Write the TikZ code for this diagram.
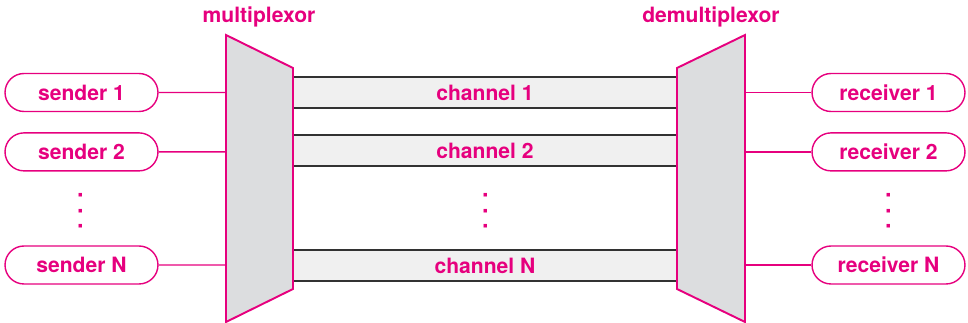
\documentclass[tikz,border=0pt]{standalone}
\usepackage{fontspec}
\setsansfont{TeX Gyre Heros}
\usetikzlibrary{positioning,shapes.misc,calc}
\definecolor{muxpink}{RGB}{230,0,126}
\definecolor{muxgray}{RGB}{220,221,223}
\definecolor{chanfill}{RGB}{240,240,240}
\definecolor{chanline}{RGB}{50,50,50}
\tikzset{
  endpt/.style={rounded rectangle, draw=muxpink, line width=0.8pt, minimum width=3.06cm,
                minimum height=0.76cm, inner sep=0pt, text=muxpink,
                font=\sffamily\bfseries\fontsize{12}{14}\selectfont},
  ttl/.style={text=muxpink, font=\sffamily\bfseries\fontsize{12}{14}\selectfont},
  mux/.style={draw=muxpink, fill=muxgray, line width=1.1pt, line join=miter},
  wire/.style={draw=muxpink, line width=0.8pt},
  chan/.style={fill=chanfill, minimum width=7.68cm, minimum height=0.62cm, inner sep=0pt,
               text=muxpink, font=\sffamily\bfseries\fontsize{12}{14}\selectfont},
  chanedge/.style={draw=chanline, line width=1.1pt},
  dotcol/.style={text=muxpink, rotate=90, inner sep=0pt,
                 font=\sffamily\bfseries\fontsize{13.5}{14}\selectfont}
}
\begin{document}
\begin{tikzpicture}[x=0.02cm, y=-0.02cm]
  \useasboundingbox (0,0) rectangle (968,323);
  % channels between the two boxes
  \node[chan] (c1) at (485,92.5) {channel 1};
  \node[chan] (c2) at (485,150.5) {channel 2};
  \node[chan] (cN) at (485,265.5) {channel N};
  \foreach \c in {c1,c2,cN}{
    \draw[chanedge] (\c.north west) -- (\c.north east);
    \draw[chanedge] (\c.south west) -- (\c.south east);
  }
  \node[dotcol] (cdots) at (485.5,211) {. . .};
  % multiplexor and demultiplexor
  \draw[mux] (226,35) coordinate (muxL) -- (293,68) -- (293,289) -- (226,322) -- cycle;
  \draw[mux] (745,35) coordinate (demuxR) -- (677,68) -- (677,289) -- (745,322) -- cycle;
  \node[ttl] (muxlbl) at (259,17) {multiplexor};
  \node[ttl] (demuxlbl) at (711,17) {demultiplexor};
  % senders
  \node[endpt] (s1) at (81.5,92.5) {sender 1};
  \node[endpt, below=0.4cm of s1] (s2) {sender 2};
  \node[endpt] (sN) at (81.5,265) {sender N};
  \node[dotcol] (sdots) at (80.5,211) {. . .};
  % receivers
  \node[endpt] (r1) at (888.5,92.5) {receiver 1};
  \node[endpt, below=0.4cm of r1] (r2) {receiver 2};
  \node[endpt] (rN) at (888.5,265) {receiver N};
  \node[dotcol] (rdots) at (888.5,211) {. . .};
  \foreach \n in {1,2,N}{
    \draw[wire] (s\n) -- (s\n -| muxL);
    \draw[wire] (r\n) -- (r\n -| demuxR);
  }
\end{tikzpicture}
\end{document}
